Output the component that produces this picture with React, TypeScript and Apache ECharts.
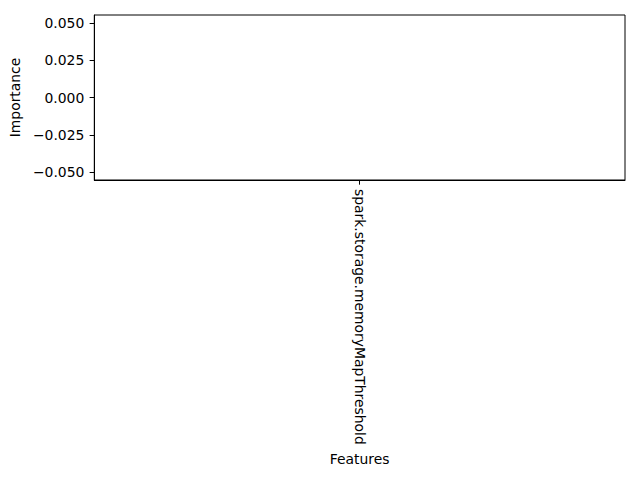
import React, { useEffect, useRef } from "react";
import * as echarts from "echarts";

const categories = ["spark.storage.memoryMapThreshold"];
const importance = [0];
const yTicks = [-0.05, -0.025, 0, 0.025, 0.05];
const yMin = -0.0552;
const yMax = 0.0552;

const FONT = "DejaVu Sans";
const FS = 13.9;

export default function App() {
  const ref = useRef<HTMLDivElement>(null);
  useEffect(() => {
    if (!ref.current) return;
    const chart = echarts.init(ref.current, null, { renderer: "svg" });
    chart.setOption({
      animation: false,
      backgroundColor: "#ffffff",
      grid: {
        left: 87,
        right: 15,
        top: 15,
        bottom: 300,
        show: true,
        borderColor: "#000",
        borderWidth: 1,
        backgroundColor: "transparent",
      },
      xAxis: {
        type: "category",
        data: categories,
        name: "Features",
        nameLocation: "middle",
        nameGap: 272,
        nameTextStyle: { color: "#000", fontFamily: FONT, fontSize: FS },
        axisLine: { show: true, onZero: false, lineStyle: { color: "#000", width: 1 } },
        axisTick: { show: true, alignWithLabel: true, length: 4.67, lineStyle: { color: "#000" } },
        axisLabel: {
          rotate: -90,
          interval: 0,
          margin: 9,
          color: "#000",
          fontFamily: FONT,
          fontSize: FS,
        },
        splitLine: { show: false },
      },
      yAxis: {
        type: "value",
        min: yMin,
        max: yMax,
        name: "Importance",
        nameLocation: "middle",
        nameGap: 66,
        nameRotate: 90,
        nameTextStyle: { color: "#000", fontFamily: FONT, fontSize: FS },
        axisLine: { show: true, lineStyle: { color: "#000", width: 1 } },
        axisTick: {
          show: true,
          length: 4.67,
          lineStyle: { color: "#000" },
          customValues: yTicks,
        },
        axisLabel: {
          color: "#000",
          fontFamily: FONT,
          fontSize: FS,
          margin: 10,
          customValues: yTicks,
          formatter: (v: number) => {
            const s = Math.abs(v).toFixed(3);
            return v < -1e-9 ? "\u2212" + s : s;
          },
        },
        splitLine: { show: false },
      },
      series: [
        {
          type: "bar",
          data: importance,
          barWidth: "80%",
          itemStyle: { color: "#1f77b4" },
        },
      ],
    });
    return () => chart.dispose();
  }, []);
  return (
    <div
      ref={ref}
      style={{ position: "fixed", left: 0, top: 0, width: 640, height: 480 }}
    />
  );
}
